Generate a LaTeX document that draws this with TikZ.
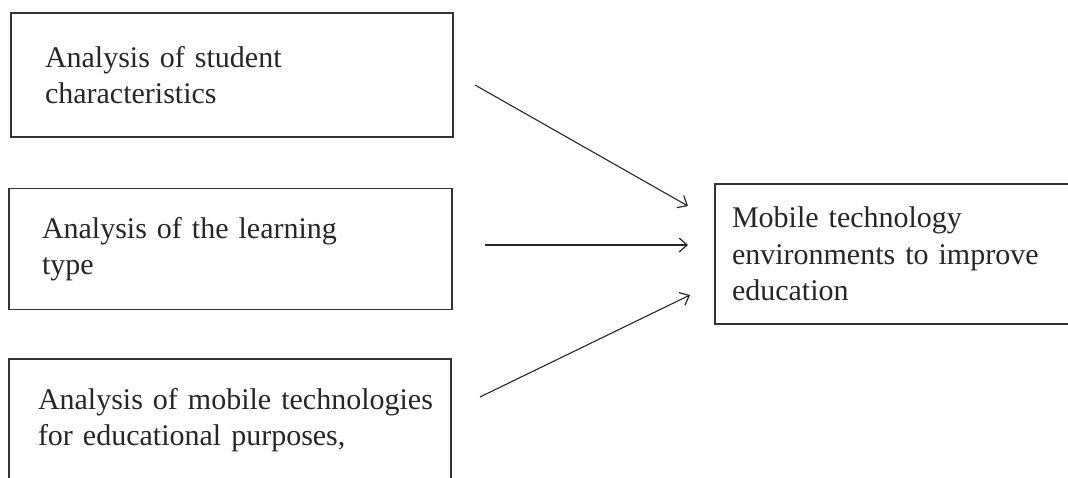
\documentclass[tikz,border=0pt]{standalone}
\usepackage{fontspec}
\setmainfont{Liberation Serif}
\usetikzlibrary{arrows.meta}
\begin{document}
\begin{tikzpicture}[x=1pt,y=-1pt,
  box/.style={draw=black!80, line width=1.8pt, rectangle, align=left,
    font=\fontsize{30}{36.5}\selectfont, inner ysep=0pt, text=black!85},
  arr/.style={-{Straight Barb[length=8pt,width=14pt,line width=1.2pt]}, line width=1.1pt, draw=black!85}]
\useasboundingbox (0,0) rectangle (1068,477);
\clip (0,0) rectangle (1068,477);
\node[box, minimum width=442pt, minimum height=124pt, inner xsep=34pt, text width=374pt] (b1) at (232,75)
  {\mbox{Analysis of student}\\\mbox{characteristics}};
\node[box, minimum width=443pt, minimum height=121pt, inner xsep=33pt, text width=377pt] (b2) at (230.5,249)
  {\mbox{Analysis of the learning}\\\mbox{type}};
\node[box, minimum width=442pt, minimum height=122pt, inner xsep=29pt, text width=384pt] (b3) at (230,420)
  {\mbox{Analysis of mobile technologies}\\\mbox{for educational purposes,}};
\node[box, minimum width=385pt, minimum height=140pt, inner xsep=17pt, text width=351pt] (t) at (907.5,254)
  {\mbox{Mobile technology}\\\mbox{environments to improve}\\\mbox{education}};
\coordinate (s1) at (475,85);
\coordinate (e1) at (688,206);
\coordinate (s2) at (485,245);
\coordinate (e2) at (688,245);
\coordinate (s3) at (480,397);
\coordinate (e3) at (690,295);
\draw[arr] (s1) -- (e1);
\draw[arr] (s2) -- (e2);
\draw[arr] (s3) -- (e3);
\end{tikzpicture}
\end{document}
